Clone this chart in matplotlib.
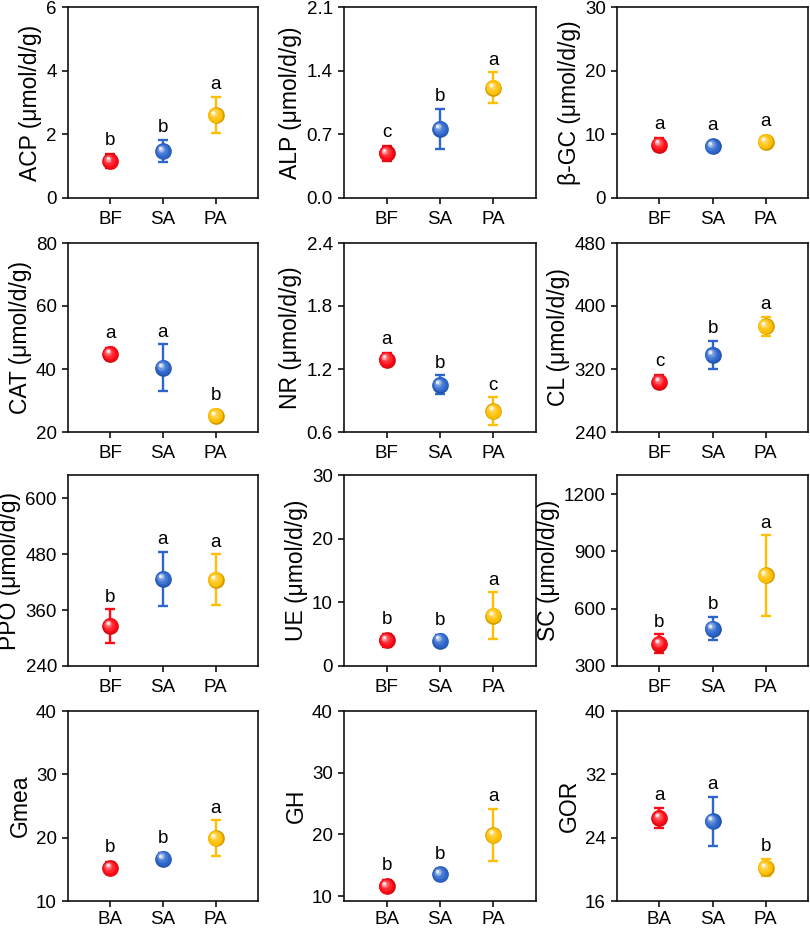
import numpy as np
import matplotlib
matplotlib.use('Agg')
import matplotlib.pyplot as plt
import matplotlib.transforms as mtransforms
from matplotlib.colors import to_rgb

plt.rcParams['font.family'] = ['Liberation Sans', 'DejaVu Sans']

# ---------------- data ----------------
groups_top = ['BF', 'SA', 'PA']
groups_bottom = ['BA', 'SA', 'PA']

acp_mean = [1.15, 1.47, 2.60]
acp_err = [0.22, 0.35, 0.57]
acp_letters = ['b', 'b', 'a']

alp_mean = [0.49, 0.76, 1.21]
alp_err = [0.08, 0.22, 0.17]
alp_letters = ['c', 'b', 'a']

bgc_mean = [8.4, 8.1, 8.8]
bgc_err = [1.0, 0.9, 1.0]
bgc_letters = ['a', 'a', 'a']

cat_mean = [44.8, 40.4, 25.2]
cat_err = [2.0, 7.4, 1.8]
cat_letters = ['a', 'a', 'b']

nr_mean = [1.29, 1.05, 0.80]
nr_err = [0.06, 0.09, 0.13]
nr_letters = ['a', 'b', 'c']

cl_mean = [304, 338, 374]
cl_err = [8, 18, 12]
cl_letters = ['c', 'b', 'a']

ppo_mean = [326, 427, 425]
ppo_err = [36, 58, 55]
ppo_letters = ['b', 'a', 'a']

ue_mean = [4.05, 4.0, 7.9]
ue_err = [1.0, 0.9, 3.7]
ue_letters = ['b', 'b', 'a']

sc_mean = [417, 496, 774]
sc_err = [48, 62, 210]
sc_letters = ['b', 'b', 'a']

gmea_mean = [15.2, 16.7, 19.9]
gmea_err = [1.0, 0.9, 2.85]
gmea_letters = ['b', 'b', 'a']

gh_mean = [11.6, 13.5, 19.9]
gh_err = [1.0, 0.9, 4.2]
gh_letters = ['b', 'b', 'a']

gor_mean = [26.5, 26.1, 20.2]
gor_err = [1.3, 3.1, 1.1]
gor_letters = ['a', 'a', 'b']

ylabels = ['ACP (μmol/d/g)', 'ALP (μmol/d/g)', 'β-GC (μmol/d/g)',
           'CAT (μmol/d/g)', 'NR (μmol/d/g)', 'CL (μmol/d/g)',
           'PPO (μmol/d/g)', 'UE (μmol/d/g)', 'SC (μmol/d/g)',
           'Gmea', 'GH', 'GOR']

yticks_list = [
    [0, 2, 4, 6], [0.0, 0.7, 1.4, 2.1], [0, 10, 20, 30],
    [20, 40, 60, 80], [0.6, 1.2, 1.8, 2.4], [240, 320, 400, 480],
    [240, 360, 480, 600], [0, 10, 20, 30], [300, 600, 900, 1200],
    [10, 20, 30, 40], [10, 20, 30, 40], [16, 24, 32, 40],
]
ytick_fmt = ['{:.0f}', '{:.1f}', '{:.0f}',
             '{:.0f}', '{:.1f}', '{:.0f}',
             '{:.0f}', '{:.0f}', '{:.0f}',
             '{:.0f}', '{:.0f}', '{:.0f}']
ylims = [(0, 6), (0, 2.1), (0, 30),
         (20, 80), (0.6, 2.4), (240, 480),
         (240, 650), (0, 30), (300, 1300),
         (10, 40), (9.2, 40), (16, 40)]

means = [acp_mean, alp_mean, bgc_mean, cat_mean, nr_mean, cl_mean,
         ppo_mean, ue_mean, sc_mean, gmea_mean, gh_mean, gor_mean]
errs = [acp_err, alp_err, bgc_err, cat_err, nr_err, cl_err,
        ppo_err, ue_err, sc_err, gmea_err, gh_err, gor_err]
letters = [acp_letters, alp_letters, bgc_letters, cat_letters, nr_letters,
           cl_letters, ppo_letters, ue_letters, sc_letters, gmea_letters,
           gh_letters, gor_letters]

colors = ['#FF0A14', '#2C66CC', '#FFBF00']

# ---------------- layout ----------------
W, H = 810, 931
DPI = 100
fig = plt.figure(figsize=(W / DPI, H / DPI), dpi=DPI)

col_lr = [(68, 258), (344, 536), (617, 808)]
row_tb = [(7, 198), (243, 432), (475, 666), (711, 901)]

MS = 12


def mix(c, t):
    c = np.array(to_rgb(c))
    return tuple(c + (1 - c) * t)


def dark(c, f):
    c = np.array(to_rgb(c))
    return tuple(c * f)


def sphere(ax, x, y, color):
    layers = [
        (MS, dark(color, 0.82), 0.0, 0.0),
        (MS - 1.2, color, -0.3, 0.35),
        (MS - 3.8, mix(color, 0.12), -0.8, 0.9),
        (MS - 6.3, mix(color, 0.32), -1.3, 1.5),
        (MS - 8.4, mix(color, 0.6), -1.7, 1.9),
        (MS - 9.8, mix(color, 0.88), -1.9, 2.2),
    ]
    for ms, col, dx, dy in layers:
        tr = mtransforms.offset_copy(ax.transData, fig=fig, x=dx, y=dy,
                                     units='points')
        ax.plot([x], [y], 'o', ms=ms, color=col, mec='none', zorder=4,
                transform=tr)


for i in range(12):
    r, c = divmod(i, 3)
    l, rr = col_lr[c]
    t, b = row_tb[r]
    ax = fig.add_axes([l / W, (H - b) / H, (rr - l) / W, (b - t) / H])
    cats = groups_top if r < 3 else groups_bottom
    xs = np.arange(1, 4)
    ax.set_xlim(0.2, 3.8)
    ax.set_ylim(*ylims[i])
    for j in range(3):
        ax.errorbar(xs[j], means[i][j], yerr=errs[i][j], fmt='none',
                    ecolor=colors[j], elinewidth=1.7, capsize=3.6,
                    capthick=1.7, zorder=3)
        sphere(ax, xs[j], means[i][j], colors[j])
    # letters
    y0, y1 = ylims[i]
    px_per_unit = ax.bbox.height / (y1 - y0)
    for j in range(3):
        err_pts = errs[i][j] * px_per_unit * 72 / DPI
        off = max(err_pts, MS / 2) + 5.5
        ax.annotate(letters[i][j], (xs[j], means[i][j]), xytext=(0, off),
                    textcoords='offset points', ha='center', va='baseline',
                    fontsize=13.5, color='black')
    ax.set_xticks(xs)
    ax.set_xticklabels(cats)
    ax.set_yticks(yticks_list[i])
    ax.set_yticklabels([ytick_fmt[i].format(v) for v in yticks_list[i]])
    ax.tick_params(axis='both', direction='out', length=4.5, width=1.2,
                   labelsize=13.5, color='#111111', pad=3.5)
    ax.tick_params(axis='x', pad=5 if r < 3 else 3)
    for s in ax.spines.values():
        s.set_linewidth(1.2)
        s.set_color('#111111')
    ax.set_ylabel(ylabels[i], fontsize=16.5, labelpad=3)

fig.savefig('out.png', dpi=DPI)
